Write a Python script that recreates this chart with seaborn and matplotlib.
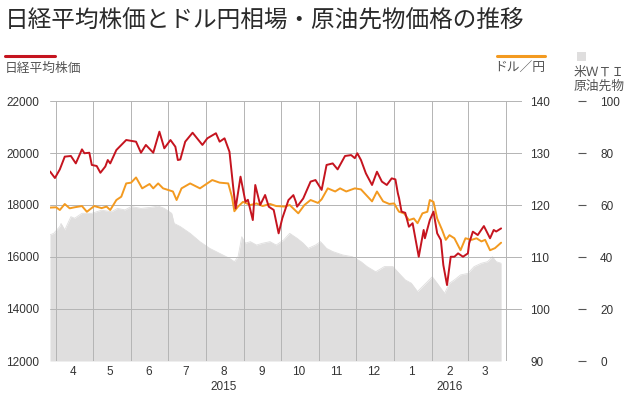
import numpy as np
import pandas as pd
import matplotlib
matplotlib.use("Agg")
import matplotlib.pyplot as plt
import matplotlib.dates as mdates
import matplotlib.transforms as mtransforms
from matplotlib.lines import Line2D
from matplotlib.patches import Rectangle
import seaborn as sns

# ---------------- data ----------------
nikkei_dates = [
    "2015-03-27", "2015-03-31", "2015-04-04", "2015-04-08", "2015-04-13", "2015-04-17",
    "2015-04-22", "2015-04-24", "2015-04-28", "2015-04-30", "2015-05-04", "2015-05-07",
    "2015-05-11", "2015-05-13", "2015-05-15", "2015-05-20", "2015-05-28", "2015-06-05",
    "2015-06-09", "2015-06-13", "2015-06-19", "2015-06-24", "2015-06-28", "2015-07-03",
    "2015-07-07", "2015-07-09", "2015-07-11", "2015-07-15", "2015-07-21", "2015-07-29",
    "2015-08-02", "2015-08-09", "2015-08-12", "2015-08-16", "2015-08-20", "2015-08-23",
    "2015-08-25", "2015-08-29", "2015-09-02", "2015-09-04", "2015-09-08", "2015-09-10",
    "2015-09-14", "2015-09-18", "2015-09-21", "2015-09-25", "2015-09-29", "2015-10-02",
    "2015-10-07", "2015-10-11", "2015-10-13", "2015-10-14", "2015-10-19", "2015-10-25",
    "2015-10-29", "2015-11-03", "2015-11-07", "2015-11-12", "2015-11-16", "2015-11-22",
    "2015-11-27", "2015-11-30", "2015-12-02", "2015-12-05", "2015-12-09", "2015-12-14",
    "2015-12-18", "2015-12-22", "2015-12-26", "2015-12-30", "2016-01-02", "2016-01-04",
    "2016-01-05", "2016-01-07", "2016-01-10", "2016-01-13", "2016-01-16", "2016-01-21",
    "2016-01-25", "2016-01-26", "2016-01-30", "2016-02-02", "2016-02-05", "2016-02-08",
    "2016-02-10", "2016-02-13", "2016-02-16", "2016-02-19", "2016-02-22", "2016-02-26",
    "2016-03-01", "2016-03-02", "2016-03-05", "2016-03-09", "2016-03-14", "2016-03-19",
    "2016-03-22", "2016-03-24", "2016-03-28",
]
nikkei_values = [
    19290, 19038, 19370, 19860, 19885, 19600,
    20140, 19990, 20010, 19540, 19500, 19240,
    19480, 19730, 19600, 20115, 20500, 20435,
    20010, 20310, 20010, 20820, 20180, 20500,
    20240, 19730, 19750, 20435, 20780, 20310,
    20565, 20760, 20435, 20565, 20050, 18705,
    17870, 19090, 18125, 18200, 17420, 18770,
    18000, 18385, 17935, 17810, 16910, 17490,
    18190, 18380, 18125, 17935, 18250, 18900,
    18960, 18580, 19540, 19600, 19370, 19885,
    19920, 19800, 19990, 19730, 19215, 18770,
    19280, 18900, 18770, 19025, 18985, 18450,
    18260, 17745, 17700, 17165, 17300, 16010,
    17040, 16720, 17420, 17745, 16910, 16655,
    15690, 14920, 16010, 16010, 16140, 16010,
    16140, 16525, 16975, 16845, 17190, 16720,
    17040, 16980, 17100,
]

usdjpy_dates = [
    "2015-03-27", "2015-04-01", "2015-04-04", "2015-04-08", "2015-04-12", "2015-04-16",
    "2015-04-22", "2015-04-26", "2015-05-02", "2015-05-08", "2015-05-12", "2015-05-15",
    "2015-05-20", "2015-05-24", "2015-05-28", "2015-06-01", "2015-06-05", "2015-06-10",
    "2015-06-16", "2015-06-19", "2015-06-23", "2015-06-27", "2015-07-01", "2015-07-05",
    "2015-07-08", "2015-07-12", "2015-07-19", "2015-07-27", "2015-08-06", "2015-08-12",
    "2015-08-19", "2015-08-22", "2015-08-24", "2015-08-27", "2015-08-31", "2015-09-06",
    "2015-09-11", "2015-09-16", "2015-09-22", "2015-09-27", "2015-10-04", "2015-10-08",
    "2015-10-15", "2015-10-20", "2015-10-25", "2015-10-31", "2015-11-03", "2015-11-08",
    "2015-11-14", "2015-11-18", "2015-11-23", "2015-11-30", "2015-12-05", "2015-12-14",
    "2015-12-18", "2015-12-23", "2015-12-28", "2016-01-01", "2016-01-04", "2016-01-05",
    "2016-01-09", "2016-01-13", "2016-01-17", "2016-01-20", "2016-01-24", "2016-01-28",
    "2016-01-30", "2016-02-02", "2016-02-05", "2016-02-09", "2016-02-12", "2016-02-15",
    "2016-02-19", "2016-02-24", "2016-02-28", "2016-03-04", "2016-03-08", "2016-03-12",
    "2016-03-15", "2016-03-19", "2016-03-23", "2016-03-28",
]
usdjpy_values = [
    119.5, 119.56, 119.04, 120.19, 119.36, 119.56,
    119.8, 118.7, 119.8, 119.4, 119.7, 119.04,
    120.96, 121.6, 124.15, 124.3, 125.3, 123.2,
    124.04, 123.2, 124.15, 123.2, 122.9, 122.6,
    120.96, 123.2, 124.15, 123.2, 124.8, 124.3,
    124.15, 121.6, 118.8, 119.7, 120.6, 120.0,
    120.3, 119.8, 120.2, 119.8, 119.7, 120.0,
    118.4, 120.0, 120.96, 120.4, 121.1, 123.2,
    122.6, 123.2, 122.6, 123.2, 123.0, 120.7,
    122.6, 120.7, 120.2, 120.3, 119.04, 118.7,
    118.4, 117.1, 117.4, 116.5, 118.4, 118.7,
    120.96, 120.6, 117.4, 115.2, 113.3, 114.2,
    113.6, 111.3, 113.6, 113.3, 113.6, 113.0,
    113.3, 111.3, 111.7, 112.75,
]

wti_dates = [
    "2015-03-27", "2015-03-30", "2015-04-04", "2015-04-05", "2015-04-08", "2015-04-13",
    "2015-04-16", "2015-04-22", "2015-04-30", "2015-05-08", "2015-05-16", "2015-05-21",
    "2015-05-27", "2015-06-01", "2015-06-09", "2015-06-17", "2015-06-23", "2015-06-28",
    "2015-07-04", "2015-07-06", "2015-07-11", "2015-07-19", "2015-07-27", "2015-08-04",
    "2015-08-12", "2015-08-20", "2015-08-24", "2015-08-27", "2015-08-30", "2015-09-02",
    "2015-09-06", "2015-09-11", "2015-09-16", "2015-09-22", "2015-09-27", "2015-10-03",
    "2015-10-08", "2015-10-14", "2015-10-19", "2015-10-23", "2015-10-29", "2015-11-02",
    "2015-11-07", "2015-11-12", "2015-11-20", "2015-11-28", "2015-12-05", "2015-12-10",
    "2015-12-17", "2015-12-24", "2015-12-31", "2016-01-05", "2016-01-10", "2016-01-15",
    "2016-01-20", "2016-01-24", "2016-01-28", "2016-02-01", "2016-02-05", "2016-02-11",
    "2016-02-15", "2016-02-19", "2016-02-24", "2016-03-01", "2016-03-06", "2016-03-12",
    "2016-03-17", "2016-03-21", "2016-03-24", "2016-03-28",
]
wti_values = [
    48.5, 49.1, 51.7, 52.9, 50.4, 55.5,
    54.9, 56.8, 56.8, 58.0, 57.4, 58.7,
    58.1, 59.4, 58.7, 59.1, 59.6, 58.7,
    56.8, 52.9, 51.7, 49.1, 45.9, 43.3,
    41.4, 39.5, 38.2, 40.1, 47.8, 45.3,
    45.9, 44.6, 45.3, 45.9, 44.6, 46.5,
    49.1, 47.2, 45.3, 43.3, 44.6, 45.9,
    43.3, 42.1, 40.8, 40.1, 38.2, 36.3,
    34.3, 36.3, 36.3, 33.7, 31.2, 29.9,
    26.7, 28.6, 30.5, 32.4, 29.9, 26.0,
    29.9, 31.2, 33.1, 33.7, 36.3, 37.6,
    38.2, 40.1, 38.2, 37.6,
]

title_text = "日経平均株価とドル円相場・原油先物価格の推移"
nikkei_label = "日経平均株価"
usdjpy_label = "ドル／円"
wti_label = "米ＷＴＩ\n原油先物"
year_labels = ["2015", "2016"]
year_positions = ["2015-08-15", "2016-02-15"]
nikkei_ticks = [12000, 14000, 16000, 18000, 20000, 22000]
usdjpy_ticks = [90, 100, 110, 120, 130, 140]
wti_ticks = [0, 20, 40, 60, 80, 100]

# ---------------- styling ----------------
RED = "#c5141f"
ORANGE = "#f39a20"
GRAY_FILL = "#dfdede"
GRID = "#b4b4b4"
TXT = "#333333"

sns.set_theme(style="white")
plt.rcParams["font.family"] = ["Liberation Sans", "Noto Sans CJK JP", "DejaVu Sans"]

W, H = 631, 399
fig = plt.figure(figsize=(W / 100, H / 100), dpi=100)
fig.patch.set_facecolor("white")

ax_w = fig.add_axes([50 / W, 1 - 361 / H, 472 / W, 260 / H])
ax_j = ax_w.twinx()
ax_n = ax_w.twinx()
ax_w.set_zorder(1)
ax_j.set_zorder(2)
ax_n.set_zorder(3)
ax_n.patch.set_visible(False)
ax_j.patch.set_visible(False)

df_n = pd.DataFrame({"date": pd.to_datetime(nikkei_dates), "value": nikkei_values})
df_j = pd.DataFrame({"date": pd.to_datetime(usdjpy_dates), "value": usdjpy_values})
df_w = pd.DataFrame({"date": pd.to_datetime(wti_dates), "value": wti_values})

# WTI area
sns.lineplot(data=df_w, x="date", y="value", ax=ax_w, color=GRAY_FILL, linewidth=0.6)
ax_w.fill_between(df_w["date"], 0, df_w["value"], color=GRAY_FILL, linewidth=0, zorder=1)
# USD/JPY and Nikkei lines
sns.lineplot(data=df_j, x="date", y="value", ax=ax_j, color=ORANGE, linewidth=1.4)
sns.lineplot(data=df_n, x="date", y="value", ax=ax_n, color=RED, linewidth=1.4)

xmin, xmax = pd.Timestamp("2015-03-27"), pd.Timestamp("2016-04-14")
for a in (ax_w, ax_j, ax_n):
    a.set_xlim(xmin, xmax)
    a.set_xlabel("")
    a.set_ylabel("")
    for s in a.spines.values():
        s.set_visible(False)

ax_w.set_ylim(0, 100)
ax_j.set_ylim(90, 140)
ax_n.set_ylim(12000, 22000)

# grid on the bottom (WTI) axis, drawn above the fill
ax_w.set_axisbelow(False)
ax_w.xaxis.set_major_locator(mdates.MonthLocator(bymonthday=1))
ax_w.xaxis.set_major_formatter(plt.NullFormatter())
ax_w.xaxis.set_minor_locator(mdates.MonthLocator(bymonthday=15))
ax_w.xaxis.set_minor_formatter(mdates.DateFormatter("%-m"))
ax_w.tick_params(axis="x", which="both", length=0, pad=3.5, labelsize=8.5, labelcolor=TXT)
ax_w.grid(True, which="major", axis="both", color=GRID, linewidth=0.7)

# WTI ticks on far right with dash marks
ax_w.set_yticks(wti_ticks)
ax_w.yaxis.tick_right()
ax_w.spines["right"].set_position(("outward", 40.1))
ax_w.tick_params(axis="y", which="major", direction="out", length=5.5, width=0.8,
                 color="#555555", pad=10.6, labelsize=8.5, labelcolor=TXT)

# USD/JPY ticks on right
ax_j.set_yticks(usdjpy_ticks)
ax_j.yaxis.tick_right()
ax_j.tick_params(axis="y", length=0, pad=5.8, labelsize=8.5, labelcolor=TXT)

# Nikkei ticks on left
ax_n.set_yticks(nikkei_ticks)
ax_n.yaxis.tick_left()
ax_n.tick_params(axis="y", length=0, pad=7.9, labelsize=8.5, labelcolor=TXT)
ax_n.yaxis.set_label_position("left")

# year labels
trans = mtransforms.blended_transform_factory(ax_w.transData, ax_w.transAxes)
for lab, pos in zip(year_labels, year_positions):
    ax_w.text(pd.Timestamp(pos), -0.1, lab, transform=trans, ha="center", va="center",
              fontsize=8.5, color=TXT)

# title
fig.text(5 / W, 1 - 20 / H, title_text, fontsize=17, color="#2a2a2a",
         ha="left", va="center", family=["Noto Sans CJK JP", "DejaVu Sans"])

# legend-like header items
fig.add_artist(Line2D([5 / W, 55 / W], [1 - 56 / H, 1 - 56 / H], color=RED, linewidth=2.2))
fig.text(5 / W, 1 - 68 / H, nikkei_label, fontsize=9.2, color="#555555", ha="left", va="center",
         family=["Noto Sans CJK JP", "DejaVu Sans"])
fig.add_artist(Line2D([497 / W, 545 / W], [1 - 56 / H, 1 - 56 / H], color=ORANGE, linewidth=2.2))
fig.text(545 / W, 1 - 67 / H, usdjpy_label, fontsize=9.2, color="#555555", ha="right", va="center",
         family=["Noto Sans CJK JP", "DejaVu Sans"])
fig.add_artist(Rectangle((577 / W, 1 - 61 / H), 9 / W, 9 / H, transform=fig.transFigure,
                         facecolor=GRAY_FILL, edgecolor="none"))
fig.text(574 / W, 1 - 79 / H, wti_label, fontsize=9.2, color="#555555", ha="left", va="center",
         linespacing=1.05, family=["Noto Sans CJK JP", "DejaVu Sans"])

fig.savefig("out.png", dpi=100)
